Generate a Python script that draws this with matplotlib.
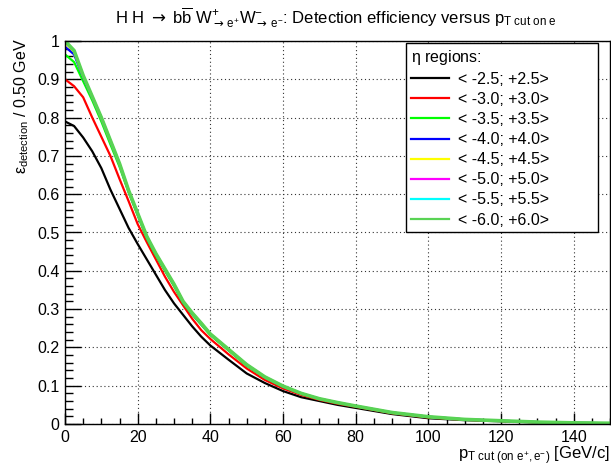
import matplotlib
matplotlib.use("Agg")
import matplotlib.pyplot as plt
from matplotlib.ticker import MultipleLocator, FixedLocator

plt.rcParams['font.family'] = ['Liberation Sans', 'DejaVu Sans']
plt.rcParams['mathtext.fontset'] = 'custom'
plt.rcParams['mathtext.rm'] = 'Liberation Sans'
plt.rcParams['mathtext.it'] = 'Liberation Sans'
plt.rcParams['mathtext.bf'] = 'Liberation Sans:bold'
plt.rcParams['mathtext.sf'] = 'DejaVu Sans'
plt.rcParams['mathtext.fallback'] = 'stixsans'

# pT cut values [GeV/c]
pt = [0, 2.5, 5, 7.5, 10, 12.5, 15, 17.5, 20, 22.5, 25, 27.5, 30, 32.5, 35, 37.5,
      40, 45, 50, 55, 60, 65, 70, 75, 80, 90, 100, 110, 120, 130, 140, 150]

eff_25 = [0.790, 0.778, 0.748, 0.712, 0.668, 0.612, 0.562, 0.512, 0.470, 0.430, 0.390, 0.350,
          0.315, 0.285, 0.255, 0.228, 0.205, 0.168, 0.132, 0.107, 0.086, 0.070, 0.060, 0.050,
          0.042, 0.026, 0.015, 0.010, 0.007, 0.004, 0.002, 0.001]
eff_30 = [0.900, 0.882, 0.853, 0.800, 0.750, 0.700, 0.640, 0.582, 0.522, 0.475, 0.430, 0.385,
          0.345, 0.310, 0.275, 0.245, 0.222, 0.182, 0.145, 0.115, 0.093, 0.076, 0.063, 0.053,
          0.045, 0.028, 0.017, 0.011, 0.008, 0.0045, 0.0025, 0.0015]
eff_35 = [0.965, 0.945, 0.895, 0.845, 0.790, 0.730, 0.672, 0.605, 0.545, 0.485, 0.440, 0.400,
          0.360, 0.316, 0.286, 0.259, 0.232, 0.192, 0.152, 0.121, 0.097, 0.079, 0.065, 0.055,
          0.046, 0.029, 0.018, 0.012, 0.008, 0.005, 0.003, 0.002]
eff_40 = [0.985, 0.965, 0.905, 0.852, 0.798, 0.738, 0.678, 0.608, 0.548, 0.488, 0.443, 0.403,
          0.363, 0.318, 0.288, 0.261, 0.234, 0.194, 0.154, 0.122, 0.098, 0.080, 0.066, 0.056,
          0.047, 0.030, 0.019, 0.012, 0.0085, 0.005, 0.003, 0.002]
eff_45 = [0.995, 0.972, 0.908, 0.854, 0.800, 0.740, 0.680, 0.610, 0.550, 0.490, 0.445, 0.405,
          0.365, 0.320, 0.290, 0.263, 0.235, 0.195, 0.155, 0.123, 0.099, 0.080, 0.066, 0.056,
          0.047, 0.030, 0.019, 0.012, 0.0085, 0.005, 0.003, 0.002]
eff_50 = [0.998, 0.974, 0.909, 0.855, 0.800, 0.740, 0.680, 0.610, 0.550, 0.490, 0.445, 0.405,
          0.365, 0.320, 0.290, 0.263, 0.235, 0.195, 0.155, 0.123, 0.099, 0.080, 0.066, 0.056,
          0.047, 0.030, 0.019, 0.012, 0.0085, 0.005, 0.003, 0.002]
eff_55 = [0.999, 0.975, 0.910, 0.855, 0.800, 0.740, 0.680, 0.610, 0.550, 0.490, 0.445, 0.405,
          0.365, 0.320, 0.290, 0.263, 0.235, 0.195, 0.155, 0.123, 0.099, 0.080, 0.066, 0.056,
          0.047, 0.030, 0.019, 0.012, 0.0085, 0.005, 0.003, 0.002]
eff_60 = [1.000, 0.975, 0.910, 0.855, 0.800, 0.740, 0.680, 0.610, 0.550, 0.490, 0.445, 0.405,
          0.365, 0.320, 0.290, 0.263, 0.235, 0.195, 0.155, 0.123, 0.099, 0.080, 0.066, 0.056,
          0.047, 0.030, 0.019, 0.012, 0.0085, 0.005, 0.003, 0.002]

labels = ["< -2.5; +2.5>", "< -3.0; +3.0>", "< -3.5; +3.5>", "< -4.0; +4.0>",
          "< -4.5; +4.5>", "< -5.0; +5.0>", "< -5.5; +5.5>", "< -6.0; +6.0>"]
series = [eff_25, eff_30, eff_35, eff_40, eff_45, eff_50, eff_55, eff_60]
colors = ["#000000", "#ff0000", "#00ff00", "#0000ff", "#ffff00", "#ff00ff", "#00ffff", "#59d354"]
y_ticks = [0, 0.1, 0.2, 0.3, 0.4, 0.5, 0.6, 0.7, 0.8, 0.9, 1.0]
y_ticklabels = ["0", "0.1", "0.2", "0.3", "0.4", "0.5", "0.6", "0.7", "0.8", "0.9", "1"]

fig = plt.figure(figsize=(6.11, 4.69), dpi=100)
ax = fig.add_axes([65/611, 45/469, 545/611, 383/469])

handles = []
for y, c, lab in zip(series, colors, labels):
    lw = 1.6 if c != "#59d354" else 2.6
    h, = ax.plot(pt, y, color=c, lw=lw, label=lab, solid_joinstyle='round')
    handles.append(h)

ax.set_xlim(0, 150)
ax.set_ylim(0, 1.0)
ax.xaxis.set_major_locator(MultipleLocator(20))
ax.xaxis.set_minor_locator(MultipleLocator(5))
ax.yaxis.set_major_locator(FixedLocator(y_ticks))
ax.yaxis.set_minor_locator(MultipleLocator(0.02))
ax.set_yticklabels(y_ticklabels)
ax.tick_params(axis='both', which='both', direction='in', labelsize=11.5, width=1)
ax.tick_params(axis='y', which='major', length=11.5, pad=4)
ax.tick_params(axis='y', which='minor', length=5.8)
ax.tick_params(axis='x', which='major', length=7.9, pad=4)
ax.tick_params(axis='x', which='minor', length=4)
ax.grid(True, which='major', linestyle=(0, (1, 2.5)), color='#333333', lw=0.8)
for s in ax.spines.values():
    s.set_linewidth(1.0)

title = (r"H H $\mathsf{\rightarrow}$ b$\overline{\rm b}$ W$^{+}_{\mathsf{\rightarrow}\,e^{+}}$"
         r"W$^{-}_{\mathsf{\rightarrow}\,e^{-}}$: Detection efficiency versus p$_{\rm T\ cut\ on\ e}$")
fig.text(0.55, 0.962, title, ha='center', va='center', fontsize=12)

fig.text(0.035, 0.918, r"$\varepsilon_{\rm detection}$ / 0.50 GeV", rotation=90,
         ha='center', va='top', fontsize=11.5)
fig.text(0.998, 0.004, r"p$_{\rm T\ cut\ (on\ e^{+},e^{-})}$ [GeV/c]",
         ha='right', va='bottom', fontsize=12)

leg = ax.legend(handles=handles, loc='upper left', bbox_to_anchor=(0.626, 0.0, 0.352, 0.995),
                mode='expand',
                title=r"$\eta$ regions:", alignment='left', fontsize=11.5, title_fontsize=11.5,
                frameon=True, fancybox=False, edgecolor='black', framealpha=1,
                handlelength=2.4, labelspacing=0.32, borderpad=0.3, handletextpad=0.55,
                borderaxespad=0)
leg.get_frame().set_linewidth(1.0)
for lh in leg.legend_handles:
    lh.set_linewidth(1.6)

fig.savefig("out.png", dpi=100)
